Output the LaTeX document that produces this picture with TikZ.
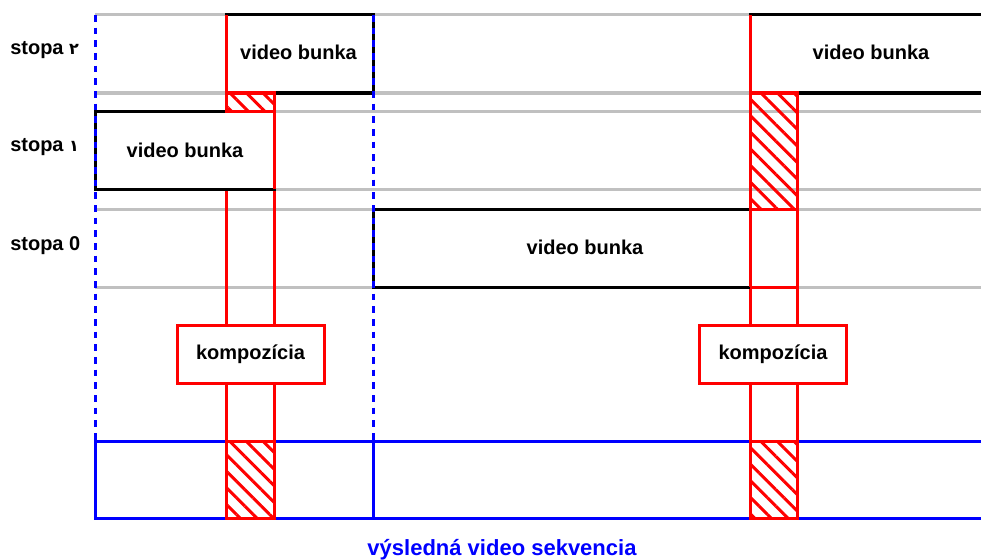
\documentclass[tikz,border=0pt]{standalone}
\usepackage{fontspec}
\setmainfont{Liberation Sans}
\newfontfamily\arabicfont[Script=Arabic]{DejaVu Sans}
\TeXXeTstate=1
\usetikzlibrary{patterns.meta}
\definecolor{trackgray}{RGB}{192,192,192}

\begin{document}
\begin{tikzpicture}[x=0.75pt,y=-0.75pt]
\tikzset{track/.style={draw=trackgray,line width=2.25pt},
	cell/.style={draw=black,line width=2.25pt,fill=white},
	bar/.style={draw=red,line width=2.25pt},
	hatch/.style={bar,pattern={Lines[angle=-45,distance=8.8pt,line width=2.25pt]},pattern color=red},
	seq/.style={draw=blue,line width=2.25pt},
	cut/.style={draw=blue,line width=2.25pt,dash pattern=on 5pt off 4.5pt},
	lbl/.style={font=\fontsize{15}{18}\selectfont\bfseries,inner sep=0pt,anchor=base},
	kompo/.style={draw=red,line width=2.25pt,fill=white,minimum width=110.25pt,
		minimum height=43.5pt,inner sep=0pt,font=\fontsize{15}{18}\selectfont\bfseries}}

\clip (0,0) rectangle (981,560);

\foreach \y in {15,93,111,189,209,287}
	\draw[track] (95,\y) -- (981,\y);

\draw[bar] (226,111) rectangle (274,441);
\draw[bar] (750,209) rectangle (797,441);

\draw[cell] (226,15) rectangle (373,93);
\draw[cell] (750,15) rectangle (995,93);
\draw[cell] (95,111) rectangle (274,189);
\draw[cell] (373,209) rectangle (750,287);

\draw[bar] (226,15) -- (226,93);
\draw[bar] (750,15) -- (750,93);
\draw[bar] (274,111) -- (274,189);
\draw[bar] (750,209) -- (750,287);
\draw[bar] (750,287) -- (797,287);
\draw[hatch] (226,93) rectangle (274,111);
\draw[hatch] (750,93) rectangle (797,209);

\draw[cut] (95,15) -- (95,441);
\draw[cut] (373,15) -- (373,441);

\draw[seq] (995,441) -- (95,441) -- (95,518) -- (995,518);
\draw[seq] (373,441) -- (373,518);
\draw[hatch] (226,441) rectangle (274,518);
\draw[hatch] (750,441) rectangle (797,518);

\node[kompo] (k1) at (250.5,354) {kompozícia};
\node[kompo] (k2) at (773,354) {kompozícia};

\node[lbl,anchor=base west] (s2) at (10,55) {stopa {\arabicfont\fontsize{12}{14}\selectfont\beginR ٢\endR}};
\node[lbl,anchor=base west] (s1) at (10,151) {stopa {\arabicfont\fontsize{12}{14}\selectfont\beginR ١\endR}};
\node[lbl,anchor=base west] (s0) at (10,250) {stopa 0};

\node[lbl] (vb2a) at (298.5,60) {video bunka};
\node[lbl] (vb2b) at (871,60) {video bunka};
\node[lbl] (vb1) at (185,157) {video bunka};
\node[lbl] (vb0) at (585,254) {video bunka};

\node[lbl,text=blue,font=\fontsize{16.5}{20}\selectfont\bfseries] (out) at (502,555) {výsledná video sekvencia};
\end{tikzpicture}
\end{document}
